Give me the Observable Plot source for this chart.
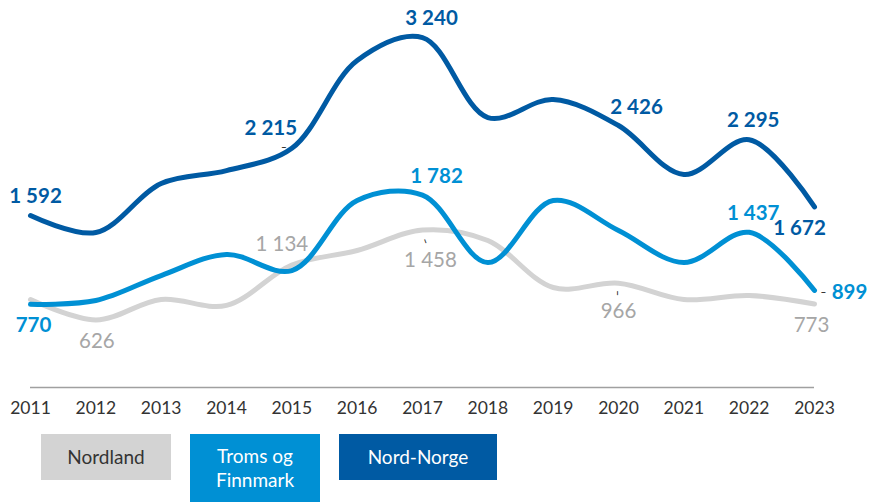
<!DOCTYPE html>
<html>
<head>
<meta charset="utf-8">
<script src="https://cdn.jsdelivr.net/npm/d3@7"></script>
<script src="https://cdn.jsdelivr.net/npm/@observablehq/plot@0.6"></script>
<style>
  html, body { margin: 0; padding: 0; background: #fff; }
  #wrap { position: relative; width: 871px; height: 502px; font-family: Lato, "Noto Sans", sans-serif; }
  .leg { position: absolute; top: 434px; display: flex; align-items: center; justify-content: center; text-align: center; font-size: 19px; line-height: 24px; }
</style>
</head>
<body>
<div id="wrap"></div>
<script>
const years = [2011,2012,2013,2014,2015,2016,2017,2018,2019,2020,2021,2022,2023];
const nordNorge = [1592,1435,1889,2009,2215,3028,3240,2500,2667,2426,1972,2295,1672];
const troms     = [770,806,1037,1232,1083,1731,1782,1157,1732,1454,1157,1437,899];
const nordland  = [815,626,815,760,1134,1269,1458,1361,926,966,815,852,773];
const seriesNames = ["Nordland","Troms og Finnmark","Nord-Norge"];
const seriesColors = ["#d3d3d3","#0090d4","#005aa3"];
const labelColors = ["#a6a6a6","#0090d4","#005aa3"];

// which points carry a value label
const labelled = {
  "Nord-Norge": [2011,2015,2017,2020,2022,2023],
  "Troms og Finnmark": [2011,2017,2022,2023],
  "Nordland": [2012,2015,2017,2020,2023]
};
// label offsets (layout only)
const labelOffsets = {
  "Nord-Norge": {2011:[5,-19],2015:[-21,-20],2017:[9,-19],2020:[18,-18],2022:[4,-19],2023:[-15,21]},
  "Troms og Finnmark": {2011:[3,21],2017:[14,-19],2022:[4,-19],2023:[35,2]},
  "Nordland": {2012:[1,22],2015:[-10,-21],2017:[8,30],2020:[0,28],2023:[-3,21]}
};
// small leader marks (layout only): [series, year, dx, dy, rotate]
const leaders = [
  ["Nord-Norge", 2015, -8, -2, 0],
  ["Nordland", 2017, 3, 11, 70],
  ["Nordland", 2020, 0, 10, 90],
  ["Troms og Finnmark", 2023, 9, 1, 0]
];

const valuesBySeries = {"Nordland": nordland, "Troms og Finnmark": troms, "Nord-Norge": nordNorge};
const rows = [];
for (const s of seriesNames) years.forEach((y,i) => rows.push({series: s, year: y, value: valuesBySeries[s][i]}));

const fmt = d3.formatLocale({decimal: ",", thousands: " ", grouping: [3], currency: ["", ""]}).format(",");

const labelRows = rows.filter(d => labelled[d.series].includes(d.year))
  .map(d => ({...d, dx: labelOffsets[d.series][d.year][0], dy: labelOffsets[d.series][d.year][1]}));

const marks = [
  Plot.ruleY([0], {x1: 2011, x2: 2023, stroke: "#a0a0a0", strokeWidth: 1.5}),
];
for (let k = 0; k < 3; k++) {
  const s = seriesNames[k];
  marks.push(Plot.line(rows.filter(d => d.series === s), {
    x: "year", y: "value", stroke: seriesColors[k], strokeWidth: 5, curve: "catmull-rom", strokeLinecap: "round"
  }));
}
for (const d of labelRows) {
  const k = seriesNames.indexOf(d.series);
  marks.push(Plot.text([d], {
    x: "year", y: "value", text: r => fmt(r.value), dx: d.dx, dy: d.dy,
    fill: labelColors[k], fontSize: 20.5, fontWeight: k === 0 ? "normal" : "bold", textAnchor: "middle", lineAnchor: "middle"
  }));
}
for (const [s, yr, dx, dy, rot] of leaders) {
  const d = rows.find(r => r.series === s && r.year === yr);
  marks.push(Plot.text([d], {
    x: "year", y: "value", text: () => "–", dx, dy, rotate: rot,
    fill: "#222", fontSize: 10, fontWeight: "bold", textAnchor: "middle", lineAnchor: "middle"
  }));
}

const chart = Plot.plot({
  width: 871,
  height: 425,
  marginLeft: 30,
  marginRight: 57,
  marginTop: 0,
  marginBottom: 38,
  x: {domain: [2011, 2023], label: null},
  y: {domain: [0, 3584], axis: null},
  style: {fontFamily: "Lato, 'Noto Sans', sans-serif", fontSize: "17.5px", color: "#333", background: "#fff", overflow: "visible"},
  marks: [
    Plot.axisX({ticks: years, tickFormat: d => String(d), tickSize: 0, tickPadding: 14, fontSize: 17.5, fill: "#333", label: null}),
    ...marks
  ]
});
const wrap = document.getElementById("wrap");
wrap.appendChild(chart);

const legendBoxes = [
  {name: "Nordland", left: 41, width: 130, height: 46, bg: seriesColors[0], color: "#333", text: "Nordland"},
  {name: "Troms og Finnmark", left: 190, width: 130, height: 68, bg: seriesColors[1], color: "#fff", text: "Troms og<br>Finnmark"},
  {name: "Nord-Norge", left: 339, width: 158, height: 46, bg: seriesColors[2], color: "#fff", text: "Nord-Norge"}
];
for (const b of legendBoxes) {
  const el = document.createElement("div");
  el.className = "leg";
  el.style.left = b.left + "px";
  el.style.width = b.width + "px";
  el.style.height = b.height + "px";
  el.style.background = b.bg;
  el.style.color = b.color;
  el.innerHTML = b.text;
  wrap.appendChild(el);
}
</script>
</body>
</html>
